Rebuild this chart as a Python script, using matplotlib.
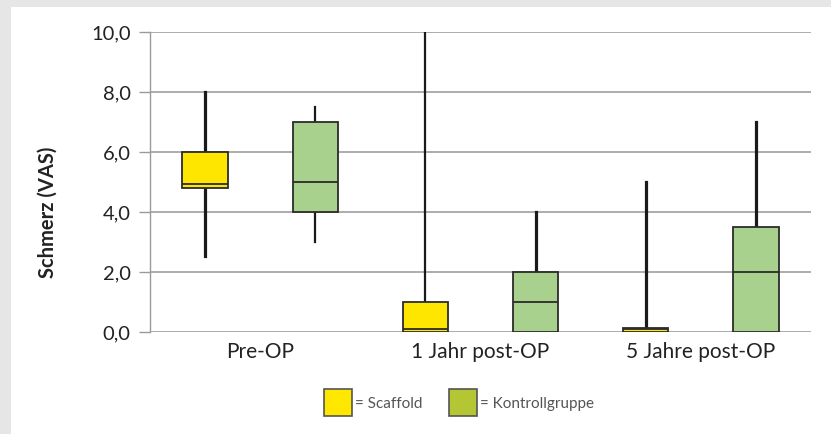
import matplotlib
matplotlib.use("Agg")
import matplotlib.pyplot as plt
from matplotlib.patches import Rectangle

# values (VAS 0-10)
groups = ["Pre-OP", "1 Jahr post-OP", "5 Jahre post-OP"]
scaffold_low = [2.55, 0.0, 0.0]
scaffold_q1 = [4.8, 0.0, 0.0]
scaffold_med = [4.95, 0.1, 0.1]
scaffold_q3 = [6.0, 1.0, 0.15]
scaffold_high = [8.0, 10.0, 5.0]
kontroll_low = [3.0, 0.0, 0.0]
kontroll_q1 = [4.0, 0.0, 0.0]
kontroll_med = [5.0, 1.0, 2.0]
kontroll_q3 = [7.0, 2.0, 3.5]
kontroll_high = [7.5, 4.0, 7.0]
yticks = [0, 2, 4, 6, 8, 10]

yellow = "#FFE600"
green = "#A9D18E"
edge = "#2b2b2b"

plt.rcParams['font.family'] = ['Lato', 'DejaVu Sans']

fig = plt.figure(figsize=(8.31, 4.34), dpi=100)
fig.patch.set_facecolor("#e6e6e6")
fig.patches.append(Rectangle((11/831, 0), 1, 1 - 7/434, transform=fig.transFigure,
                             facecolor="white", edgecolor="none", zorder=-5))

ax = fig.add_axes([150/831, 1 - 332/434, 661/831, 300/434])
ax.set_facecolor("none")

stats = []
pos = []
colors = []
for i in range(len(groups)):
    stats.append(dict(whislo=scaffold_low[i], q1=scaffold_q1[i], med=scaffold_med[i],
                      q3=scaffold_q3[i], whishi=scaffold_high[i], fliers=[]))
    stats.append(dict(whislo=kontroll_low[i], q1=kontroll_q1[i], med=kontroll_med[i],
                      q3=kontroll_q3[i], whishi=kontroll_high[i], fliers=[]))
    pos += [2 * i + 0.5, 2 * i + 1.5]
    colors += [yellow, green]

bp = ax.bxp(stats, positions=pos, widths=0.41, patch_artist=True, showcaps=False,
            showfliers=False,
            boxprops=dict(edgecolor=edge, linewidth=1.3),
            medianprops=dict(color=edge, linewidth=1.3),
            whiskerprops=dict(color="#1a1a1a", linewidth=2.3))
for b, c in zip(bp["boxes"], colors):
    b.set_facecolor(c)
    b.set_zorder(3)
for m in bp["medians"]:
    m.set_zorder(4)
# thinner whiskers for the long scaffold whiskers
for k in (2, 4):
    for w in bp["whiskers"][k:k + 2]:
        w.set_linewidth(1.6)

ax.set_xlim(0, 6)
ax.set_ylim(0, 10)
ax.set_yticks(yticks)
ax.set_yticklabels([f"{v:.1f}".replace(".", ",") for v in yticks], fontsize=14.5,
                   color="#222222")
ax.set_xticks([1, 3, 5])
ax.set_xticklabels(groups, fontsize=15, color="#222222")
ax.tick_params(axis="x", length=0, pad=7)
ax.tick_params(axis="y", length=8, color="#9a9a9a", width=1, pad=6)
ax.yaxis.grid(True, color="#a6a6a6", linewidth=1.3)
ax.set_axisbelow(True)
for s in ["top", "right", "bottom"]:
    ax.spines[s].set_visible(False)
ax.spines["left"].set_color("#9a9a9a")
ax.spines["left"].set_linewidth(1)

fig.text(48/831, 1 - 212/434, "Schmerz (VAS)", rotation=90, fontsize=14.5,
         fontweight="bold", ha="center", va="center", color="#222222")

# legend squares at the bottom
fig.patches.append(Rectangle((324/831, 1 - 416/434), 28/831, 27/434, transform=fig.transFigure,
                             facecolor="#FFE800", edgecolor="#555555", linewidth=1.2))
fig.text(355/831, 1 - 404/434, "= Scaffold", fontsize=11, color="#555555", va="center")
fig.patches.append(Rectangle((449/831, 1 - 416/434), 28/831, 27/434, transform=fig.transFigure,
                             facecolor="#B4C634", edgecolor="#555555", linewidth=1.2))
fig.text(480/831, 1 - 404/434, "= Kontrollgruppe", fontsize=11, color="#555555", va="center")

fig.savefig("out.png", dpi=100)
